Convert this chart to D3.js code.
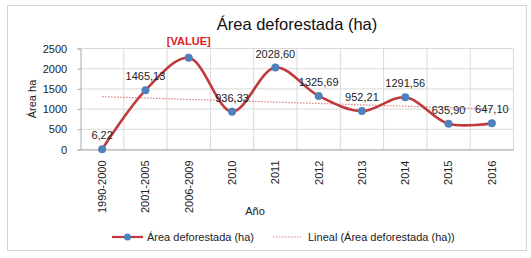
<!DOCTYPE html>
<html>
<head>
<meta charset="utf-8">
<script src="https://cdn.jsdelivr.net/npm/d3@7"></script>
<style>
  body { margin: 0; background: #fff; }
  svg { font-family: "Liberation Sans", Arial, sans-serif; }
  .grid line { stroke: #d9d9d9; stroke-width: 1; }
  .tick text { fill: #222; font-size: 11px; }
  .lbl { font-size: 11px; fill: #222; }
</style>
</head>
<body>
<svg width="531" height="258"></svg>
<script>
// data
var categories = ["1990-2000", "2001-2005", "2006-2009", "2010", "2011", "2012", "2013", "2014", "2015", "2016"];
var values = [6.22, 1465.13, 2270, 936.33, 2028.60, 1325.69, 952.21, 1291.56, 635.90, 647.10];
var labels = ["6,22", "1465,13", "[VALUE]", "936,33", "2028,60", "1325,69", "952,21", "1291,56", "635,90", "647,10"];
var trend = [1308, 1004];   // linear trendline, first and last category
var yTicks = [0, 500, 1000, 1500, 2000, 2500];

var svg = d3.select("svg");

// chart frame
svg.append("rect")
  .attr("x", 7.5).attr("y", 5.5)
  .attr("width", 519).attr("height", 245)
  .attr("fill", "#fff")
  .attr("stroke", "#d4d4d4");

var x = d3.scaleBand().domain(categories).range([80.5, 513.5]);
var y = d3.scaleLinear().domain([0, 2500]).range([149.5, 48.5]);
var cx = function(c) { return x(c) + x.bandwidth() / 2; };

// horizontal grid
svg.append("g").attr("class", "grid")
  .selectAll("line").data(yTicks).enter().append("line")
  .attr("x1", 80.5).attr("x2", 513.5)
  .attr("y1", function(d) { return y(d); })
  .attr("y2", function(d) { return y(d); });

// vertical grid
svg.append("g").attr("class", "grid")
  .selectAll("line").data(categories.slice(1).concat([null])).enter().append("line")
  .attr("x1", function(d) { return d ? x(d) : 513.5; })
  .attr("x2", function(d) { return d ? x(d) : 513.5; })
  .attr("y1", 48.5).attr("y2", 149.5);

// y axis
var yAxis = svg.append("g")
  .attr("transform", "translate(80.5,0)")
  .call(d3.axisLeft(y).tickValues(yTicks).tickFormat(d3.format("d")).tickSize(3).tickPadding(7));
yAxis.select(".domain").attr("stroke", "#aaa");
yAxis.selectAll(".tick line").attr("stroke", "#aaa");
yAxis.selectAll(".tick text").attr("dx", "-0.3em");

// x axis
var xAxis = svg.append("g")
  .attr("transform", "translate(0,149.5)")
  .call(d3.axisBottom(x).tickSize(0).tickPadding(0));
xAxis.select(".domain").attr("stroke", "#aaa");
xAxis.selectAll(".tick text")
  .attr("transform", "rotate(-90)")
  .attr("text-anchor", "end")
  .attr("x", -11).attr("y", 0).attr("dy", "0.35em");

// trend line
svg.append("line")
  .attr("x1", cx(categories[0])).attr("x2", cx(categories[categories.length - 1]))
  .attr("y1", y(trend[0])).attr("y2", y(trend[1]))
  .attr("stroke", "#d98080").attr("stroke-width", 1.2)
  .attr("stroke-dasharray", "1.5,1.5");

// series line
var line = d3.line()
  .x(function(d, i) { return cx(categories[i]); })
  .y(function(d) { return y(d); })
  .curve(d3.curveCatmullRom.alpha(0.5));

svg.append("path")
  .datum(values)
  .attr("d", line)
  .attr("fill", "none")
  .attr("stroke", "#be3a3c")
  .attr("stroke-width", 2.6);

svg.selectAll("circle.pt").data(values).enter().append("circle")
  .attr("class", "pt")
  .attr("cx", function(d, i) { return cx(categories[i]); })
  .attr("cy", function(d) { return y(d); })
  .attr("r", 4)
  .attr("fill", "#4f81bd");

// data labels
svg.selectAll("text.dl").data(values).enter().append("text")
  .attr("class", "lbl dl")
  .attr("x", function(d, i) { return cx(categories[i]); })
  .attr("y", function(d, i) { return y(d) - (i === 2 ? 13 : 10); })
  .attr("text-anchor", "middle")
  .style("fill", function(d, i) { return i === 2 ? "#e02020" : "#222"; })
  .style("font-weight", function(d, i) { return i === 2 ? "bold" : "normal"; })
  .text(function(d, i) { return labels[i]; });

// titles
svg.append("text")
  .attr("x", 297).attr("y", 30)
  .attr("text-anchor", "middle")
  .style("font-size", "16.5px").style("fill", "#111")
  .text("Área deforestada (ha)");

svg.append("text")
  .attr("transform", "translate(36,99) rotate(-90)")
  .attr("text-anchor", "middle")
  .attr("class", "lbl")
  .text("Área ha");

svg.append("text")
  .attr("x", 255).attr("y", 215)
  .attr("text-anchor", "middle")
  .attr("class", "lbl")
  .text("Año");

// legend
var lg = svg.append("g").attr("transform", "translate(0,237)");
lg.append("line").attr("x1", 112).attr("x2", 143)
  .attr("stroke", "#be3a3c").attr("stroke-width", 2.2);
lg.append("circle").attr("cx", 127.5).attr("r", 3.5).attr("fill", "#4f81bd");
lg.append("text").attr("class", "lbl").attr("x", 147).attr("dy", "0.35em")
  .text("Área deforestada (ha)");
lg.append("line").attr("x1", 273).attr("x2", 301)
  .attr("stroke", "#d98080").attr("stroke-width", 1.2)
  .attr("stroke-dasharray", "1.5,1.5");
lg.append("text").attr("class", "lbl").attr("x", 308).attr("dy", "0.35em")
  .text("Lineal (Área deforestada (ha))");
</script>
</body>
</html>
